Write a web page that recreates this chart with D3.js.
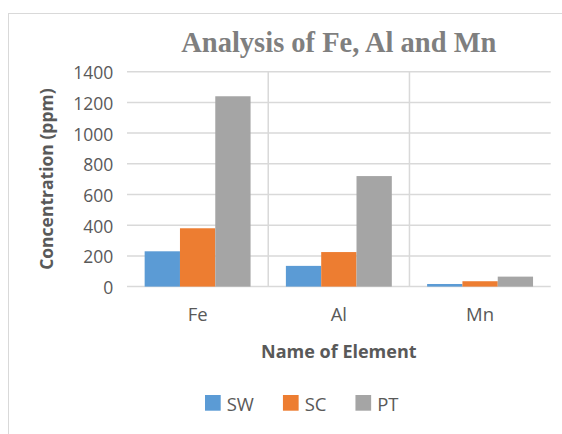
<!DOCTYPE html>
<html>
<head>
<meta charset="utf-8">
<script src="https://cdn.jsdelivr.net/npm/d3@7"></script>
<style>
  html, body { margin: 0; padding: 0; background: #fff; }
  svg { display: block; }
</style>
</head>
<body>
<svg id="chart" width="562" height="434"></svg>
<script>
const categories = ["Fe", "Al", "Mn"];
const seriesNames = ["SW", "SC", "PT"];
const swValues = [230, 135, 17];
const scValues = [380, 225, 35];
const ptValues = [1240, 720, 65];
const yTickValues = [0, 200, 400, 600, 800, 1000, 1200, 1400];
const colors = ["#5b9bd5", "#ed7d31", "#a5a5a5"];

const seriesValues = [swValues, scValues, ptValues];
const data = categories.map((c, i) => ({
  cat: c,
  vals: seriesNames.map((s, j) => ({ series: s, value: seriesValues[j][i], color: colors[j] }))
}));

const svg = d3.select("#chart");

// chart frame (extends past right/bottom edges)
svg.append("rect").attr("x", 8.5).attr("y", 13.5).attr("width", 600).attr("height", 500)
  .attr("fill", "#fff").attr("stroke", "#d9d9d9").attr("stroke-width", 1);

const plotL = 127, plotR = 550.7, plotT = 71.7, plotB = 286.6;

const x = d3.scaleBand().domain(categories).range([plotL, plotR]).padding(0);
const gap = x.bandwidth() * 0.125;
const xs = d3.scaleBand().domain(seriesNames).range([gap, x.bandwidth() - gap]).padding(0);
const y = d3.scaleLinear().domain([0, 1400]).range([plotB, plotT]);

// horizontal gridlines
svg.append("g").selectAll("line").data(yTickValues).join("line")
  .attr("x1", plotL).attr("x2", plotR)
  .attr("y1", d => y(d)).attr("y2", d => y(d))
  .attr("stroke", "#d9d9d9").attr("stroke-width", 1.5);

// vertical category separators
svg.append("g").selectAll("line").data(categories.slice(1)).join("line")
  .attr("x1", d => x(d)).attr("x2", d => x(d))
  .attr("y1", plotT).attr("y2", plotB)
  .attr("stroke", "#d9d9d9").attr("stroke-width", 1.5);

// bars
const groups = svg.append("g").selectAll("g").data(data).join("g")
  .attr("transform", d => `translate(${x(d.cat)},0)`);
groups.selectAll("rect").data(d => d.vals).join("rect")
  .attr("x", d => xs(d.series))
  .attr("width", xs.bandwidth())
  .attr("y", d => y(d.value))
  .attr("height", d => plotB - y(d.value))
  .attr("fill", d => d.color);

// y axis
const yAxis = svg.append("g").attr("transform", `translate(${plotL},0)`)
  .call(d3.axisLeft(y).tickValues(yTickValues).tickFormat(d3.format("d")).tickSize(0).tickPadding(13.7));
yAxis.select(".domain").remove();
yAxis.selectAll("text").attr("font-family", "'Open Sans', sans-serif")
  .attr("font-size", 17.5).attr("fill", "#595959").attr("dy", "0.4em");

// x axis
const xAxis = svg.append("g").attr("transform", `translate(0,${plotB})`)
  .call(d3.axisBottom(x).tickSize(0).tickPadding(21));
xAxis.select(".domain").remove();
xAxis.selectAll("text").attr("font-family", "'Open Sans', sans-serif")
  .attr("font-size", 18.5).attr("fill", "#595959");

// title
svg.append("text").attr("x", (plotL + plotR) / 2).attr("y", 52)
  .attr("text-anchor", "middle")
  .attr("font-family", "'Liberation Serif', 'Times New Roman', serif")
  .attr("font-weight", "bold").attr("font-size", 28.5).attr("fill", "#7f7f7f")
  .text("Analysis of Fe, Al and Mn");

// y axis title
svg.append("text")
  .attr("transform", `translate(53,${(plotT + plotB) / 2}) rotate(-90)`)
  .attr("text-anchor", "middle")
  .attr("font-family", "'Open Sans', sans-serif")
  .attr("font-weight", "bold").attr("font-size", 17.5).attr("fill", "#595959")
  .text("Concentration (ppm)");

// x axis title
svg.append("text").attr("x", (plotL + plotR) / 2).attr("y", 357.7)
  .attr("text-anchor", "middle")
  .attr("font-family", "'Open Sans', sans-serif")
  .attr("font-weight", "bold").attr("font-size", 18).attr("fill", "#595959")
  .text("Name of Element");

// legend
const legend = svg.append("g");
let lx = 205;
seriesNames.forEach((s, i) => {
  const g = legend.append("g");
  g.append("rect").attr("x", lx).attr("y", 395).attr("width", 15.7).attr("height", 15.7)
    .attr("fill", colors[i]);
  const t = g.append("text").attr("x", lx + 15.7 + 6).attr("y", 411)
    .attr("font-family", "'Open Sans', sans-serif")
    .attr("font-size", 18.5).attr("fill", "#595959").text(s);
  lx += 15.7 + 6 + t.node().getComputedTextLength() + 29;
});
</script>
</body>
</html>
